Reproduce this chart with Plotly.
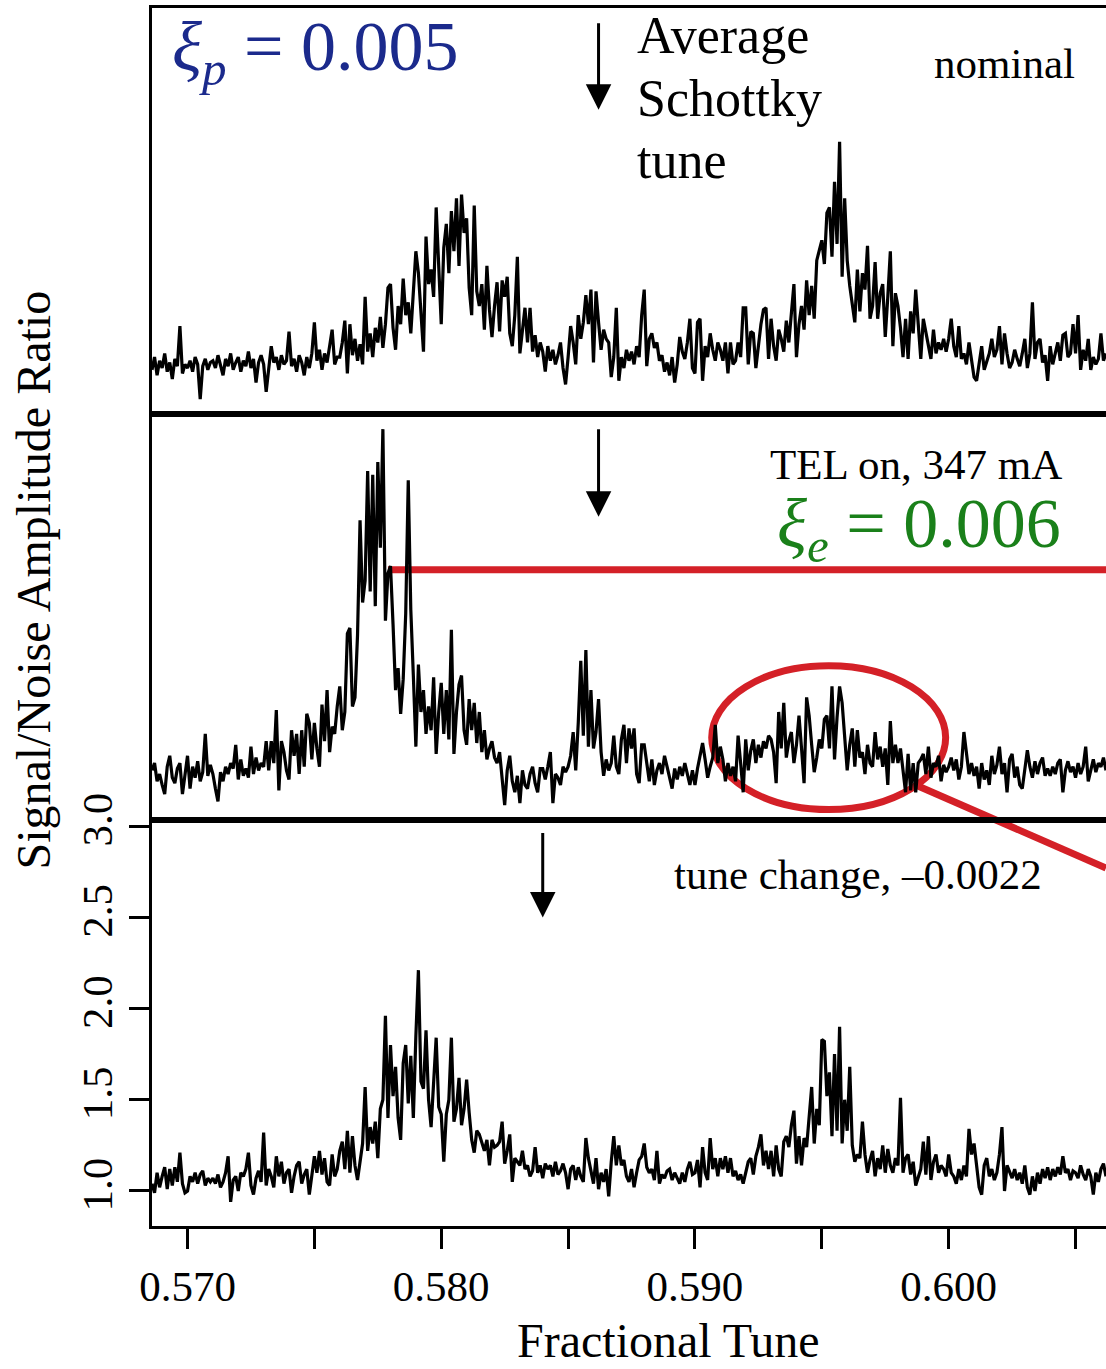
import plotly.graph_objects as go
from plotly.subplots import make_subplots

# ---------------- data (Signal/Noise amplitude ratio, sampled every 0.0001 in tune) ----------------
tune_start = 0.5686
tune_step = 0.0001

nominal = [
    1.05,1.12,1.02,1.10,1.06,1.14,1.04,1.09,1.00,1.11,1.07,1.29,1.03,1.08,
    1.06,1.10,1.04,1.12,1.08,0.89,1.07,1.11,1.05,1.09,
    1.10,1.06,1.13,1.08,1.02,1.11,1.07,1.14,1.05,1.09,
    1.12,1.04,1.10,1.07,1.15,1.06,1.11,0.98,1.09,1.13,
    1.08,0.93,1.06,1.18,1.09,1.12,1.05,1.13,1.08,1.10,
    1.26,1.07,1.11,1.04,1.13,1.09,1.02,1.12,1.06,1.14,
    1.31,1.10,1.16,1.05,1.14,1.09,1.18,1.27,1.08,1.12,
    1.12,1.20,1.32,1.03,1.30,1.13,1.22,1.10,1.19,1.08,
    1.45,1.15,1.25,1.12,1.28,1.20,1.34,1.17,1.30,1.50,
    1.52,1.28,1.16,1.40,1.30,1.55,1.35,1.42,1.25,1.48,
    1.70,1.58,1.38,1.15,1.78,1.52,1.60,1.45,1.94,1.62,
    1.30,1.72,1.85,1.58,1.92,1.70,1.99,1.62,2.01,1.80,
    1.88,1.50,1.35,1.95,1.48,1.40,1.52,1.27,1.62,1.38,
    1.23,1.40,1.53,1.26,1.54,1.45,1.56,1.25,1.18,1.35,
    1.67,1.14,1.25,1.39,1.20,1.39,1.15,1.24,1.12,1.20,
    1.15,1.04,1.18,1.10,1.16,1.08,1.13,1.20,1.06,0.97,
    1.12,1.29,1.20,1.08,1.35,1.22,1.31,1.46,1.30,1.49,
    1.09,1.48,1.31,1.16,1.27,1.22,1.20,1.01,1.12,1.39,
    0.99,1.12,1.06,1.16,1.10,1.15,1.08,1.18,1.12,1.35,
    1.49,1.07,1.22,1.25,1.17,1.20,1.10,1.13,1.04,1.09,
    1.02,1.12,0.98,1.08,1.23,1.15,1.11,1.20,1.33,1.06,
    1.03,1.31,1.33,0.99,1.18,1.12,1.25,1.16,1.10,1.20,
    1.16,1.10,1.20,1.03,1.20,1.08,1.10,1.20,1.12,1.39,
    1.39,1.08,1.26,1.25,1.06,1.18,1.30,1.38,1.39,1.11,
    1.33,1.18,1.10,1.27,1.22,1.15,1.32,1.20,1.38,1.52,
    1.12,1.30,1.40,1.27,1.54,1.35,1.51,1.33,1.65,1.71,
    1.76,1.63,1.91,1.94,1.67,2.08,1.74,2.30,1.56,1.99,
    1.65,1.51,1.42,1.31,1.60,1.37,1.58,1.49,1.73,1.33,
    1.40,1.64,1.33,1.47,1.52,1.23,1.45,1.70,1.18,1.47,
    1.40,1.28,1.12,1.33,1.11,1.37,1.25,1.49,1.30,1.11,
    1.33,1.25,1.18,1.11,1.27,1.14,1.20,1.16,1.22,1.15,
    1.22,1.33,1.18,1.12,1.29,1.11,1.14,1.08,1.20,1.10,
    1.01,0.99,1.10,1.18,1.05,1.09,1.14,1.22,1.12,1.16,
    1.29,1.08,1.25,1.14,1.06,1.09,1.16,1.11,1.07,1.14,
    1.22,1.06,1.14,1.42,1.11,1.20,1.22,1.09,1.13,0.99,
    1.18,1.08,1.14,1.20,1.10,1.24,1.25,1.12,1.14,1.30,
    1.14,1.35,1.05,1.16,1.10,1.22,1.05,1.12,1.08,1.11,
    1.25,1.10,1.14,
]

tel_on = [
    1.08,1.12,1.02,1.06,1.00,0.95,1.10,1.16,1.04,1.01,1.09,1.12,0.95,1.07,
    1.16,0.98,1.10,1.04,1.13,1.02,1.07,1.28,1.05,1.11,
    1.06,0.98,0.91,1.07,1.02,1.10,1.06,1.12,1.09,1.22,
    1.03,1.14,1.05,1.09,1.04,1.21,1.06,1.15,1.08,1.12,
    1.10,1.24,1.08,1.24,1.12,1.41,0.97,1.24,1.18,1.08,
    1.03,1.30,1.16,1.28,1.06,1.30,1.10,1.39,1.34,1.14,
    1.34,1.20,1.10,1.44,1.24,1.52,1.18,1.32,1.28,1.43,
    1.54,1.30,1.40,1.83,1.86,1.43,1.48,1.82,2.45,2.00,
    2.12,2.72,2.06,2.70,1.98,2.77,2.30,2.95,1.90,2.16,
    2.20,1.88,1.52,1.64,1.39,1.58,1.94,2.67,1.96,1.60,
    1.21,1.66,1.40,1.52,1.28,1.43,1.30,1.59,1.17,1.40,
    1.56,1.28,1.52,1.25,1.85,1.17,1.40,1.55,1.60,1.30,
    1.22,1.47,1.30,1.45,1.23,1.40,1.18,1.30,1.14,1.20,
    1.24,1.15,1.12,1.18,1.05,0.89,1.08,1.16,1.02,0.96,
    1.05,0.90,1.08,1.00,0.98,1.06,1.10,1.01,0.96,1.09,
    1.09,1.03,1.10,1.18,0.90,1.06,1.04,1.00,1.10,1.07,
    1.10,1.16,1.29,1.08,1.34,1.68,1.27,1.74,1.21,1.52,
    1.20,1.29,1.47,1.18,1.05,1.14,1.08,1.12,1.27,1.10,
    1.06,1.25,1.33,1.12,1.31,1.20,1.31,1.06,1.01,1.22,
    1.22,1.12,1.02,1.14,1.00,1.08,1.12,1.06,1.16,1.10,
    1.04,0.98,1.09,1.03,1.10,1.05,1.12,1.06,1.00,1.08,
    1.00,1.09,1.16,1.23,1.14,1.04,1.10,1.15,1.33,1.12,
    1.21,1.14,1.02,1.12,1.05,1.10,1.02,1.27,1.12,0.96,
    1.25,1.08,1.19,1.25,1.12,1.22,1.15,1.24,1.20,1.27,
    1.25,1.18,1.01,1.40,1.20,1.45,1.15,1.24,1.29,1.12,
    1.22,1.38,1.20,1.01,1.48,1.38,1.22,1.07,1.15,1.25,
    1.20,1.36,1.38,1.20,1.54,1.14,1.37,1.54,1.45,1.25,
    1.08,1.22,1.31,1.10,1.30,1.15,1.18,1.06,1.22,1.12,
    1.10,1.29,1.14,1.21,1.10,1.20,1.00,1.35,1.12,1.22,
    1.12,1.20,1.08,0.96,1.17,0.97,1.12,0.96,1.12,1.14,
    1.17,1.06,1.21,1.04,1.12,1.10,1.16,1.02,1.11,1.07,
    1.10,1.15,1.08,1.14,1.03,1.10,1.29,1.16,1.06,1.12,
    1.05,1.10,0.98,1.12,1.03,1.08,1.00,1.16,1.06,1.11,
    1.21,1.06,1.12,0.96,1.14,1.17,1.04,1.10,1.00,0.98,
    1.08,1.19,1.10,1.04,1.13,1.06,1.12,1.15,1.05,1.09,
    1.05,1.10,1.06,1.12,1.14,0.96,1.08,1.13,1.07,1.10,
    1.04,1.12,1.06,1.10,1.21,1.02,1.08,1.14,1.07,1.12,
    1.10,1.15,1.08,
]

tune_change = [
    1.04,0.99,1.10,1.02,1.08,1.13,1.01,1.12,1.03,1.13,1.05,1.21,1.04,0.99,
    1.00,1.08,1.05,1.10,1.04,1.09,1.11,1.03,1.07,1.05,
    1.07,1.04,1.09,1.02,1.05,1.10,1.19,0.94,1.06,1.08,
    1.00,1.10,1.08,1.12,1.21,1.03,0.98,1.07,1.11,1.05,
    1.32,1.03,1.12,1.08,1.02,1.19,1.08,1.16,1.04,1.10,
    1.12,0.99,1.08,1.14,1.16,1.04,1.09,1.12,0.98,1.08,
    1.19,1.10,1.22,1.09,1.18,1.05,1.03,1.20,1.08,1.12,
    1.22,1.27,1.12,1.33,1.10,1.30,1.14,1.06,1.16,1.26,
    1.57,1.22,1.35,1.26,1.38,1.18,1.45,1.50,1.96,1.40,
    1.80,1.52,1.68,1.40,1.28,1.70,1.80,1.48,1.74,1.40,
    1.85,2.21,1.60,1.56,1.88,1.50,1.35,1.62,1.84,1.46,
    1.42,1.16,1.42,1.50,1.84,1.38,1.45,1.62,1.36,1.45,
    1.61,1.43,1.28,1.21,1.33,1.31,1.27,1.22,1.28,1.14,
    1.28,1.24,1.25,1.27,1.38,1.15,1.22,1.31,1.05,1.18,
    1.16,1.14,1.22,1.12,1.14,1.08,1.11,1.24,1.10,1.14,
    1.07,1.15,1.12,1.14,1.08,1.16,1.09,1.11,1.15,1.10,
    1.01,1.12,1.14,1.06,1.13,1.08,1.05,1.29,1.18,1.10,
    1.04,1.18,1.01,1.10,1.05,1.12,0.97,1.16,1.30,1.14,
    1.25,1.14,1.17,1.08,1.05,1.12,1.02,1.10,1.17,1.19,
    1.26,1.13,1.10,1.12,1.06,1.22,1.04,1.09,1.07,1.11,
    1.12,1.06,1.10,1.07,1.04,1.10,1.05,1.12,1.16,1.09,
    1.10,1.17,1.02,1.24,1.10,1.06,1.29,1.12,1.18,1.08,
    1.18,1.12,1.19,1.10,1.18,1.08,1.11,1.06,1.09,1.04,
    1.10,1.16,1.18,1.09,1.19,1.24,1.31,1.14,1.22,1.12,
    1.22,1.08,1.25,1.12,1.08,1.27,1.30,1.24,1.36,1.44,
    1.15,1.30,1.14,1.29,1.24,1.41,1.57,1.26,1.45,1.36,
    1.83,1.82,1.52,1.65,1.30,1.75,1.33,1.90,1.26,1.50,
    1.33,1.68,1.25,1.16,1.20,1.18,1.38,1.20,1.10,1.17,
    1.22,1.08,1.18,1.12,1.25,1.10,1.23,1.14,1.10,1.18,
    1.14,1.51,1.10,1.18,1.20,1.09,1.16,1.03,1.08,1.12,
    1.27,1.09,1.30,1.06,1.16,1.20,1.10,1.14,1.12,1.08,
    1.20,1.10,1.08,1.04,1.12,1.06,1.14,1.08,1.34,1.20,
    1.26,1.12,1.02,0.98,1.14,1.18,1.08,1.12,1.06,1.10,
    1.20,1.35,1.00,1.14,1.10,1.07,1.12,1.06,1.10,1.04,
    1.14,1.02,0.98,1.08,1.00,1.10,1.04,1.12,1.07,1.13,
    1.06,1.12,1.08,1.13,1.09,1.19,1.10,1.12,1.06,1.11,
    1.10,1.07,1.14,1.09,1.06,1.12,1.08,0.98,1.10,1.05,
    1.12,1.15,1.08,
]

avg_schottky_tune = [0.5862, 0.5862, 0.5840]
x_ticks = [0.570, 0.575, 0.580, 0.585, 0.590, 0.595, 0.600, 0.605]
x_ticktext = ["0.570", "", "0.580", "", "0.590", "", "0.600", ""]
y_ticks = [1.0, 1.5, 2.0, 2.5, 3.0]
y_ticktext = ["1.0", "1.5", "2.0", "2.5", "3.0"]
x_range = [0.5686, 0.6062]
y_range = [0.808, 3.033]

FONT = "Liberation Serif"
RED = "#d42027"

def tunes(n):
    return [round(tune_start + tune_step * i, 4) for i in range(n)]

fig = make_subplots(rows=3, cols=1, shared_xaxes=True, vertical_spacing=0)

for row, series in enumerate([nominal, tel_on, tune_change], start=1):
    fig.add_trace(go.Scatter(x=tunes(len(series)), y=series, mode="lines",
                             line=dict(color="black", width=3.2),
                             showlegend=False, hoverinfo="skip"), row=row, col=1)

for row in (1, 2, 3):
    fig.update_xaxes(range=x_range, showline=True, linecolor="black", linewidth=3,
                     mirror=True, showgrid=False, zeroline=False, automargin=False,
                     row=row, col=1)
    fig.update_yaxes(range=y_range, showline=True, linecolor="black", linewidth=3,
                     mirror=False, showgrid=False, zeroline=False, automargin=False,
                     row=row, col=1)

fig.update_xaxes(showticklabels=False, ticks="", row=1, col=1)
fig.update_xaxes(showticklabels=False, ticks="", row=2, col=1)
fig.update_yaxes(showticklabels=False, ticks="", row=1, col=1)
fig.update_yaxes(showticklabels=False, ticks="", row=2, col=1)

fig.update_xaxes(tickvals=x_ticks, ticktext=x_ticktext, ticks="outside", ticklen=20,
                 tickwidth=3, tickcolor="black", tickfont=dict(size=43, color="black", family=FONT),
                 showticklabels=True, row=3, col=1)
fig.update_yaxes(tickvals=y_ticks, ticktext=y_ticktext, ticks="outside", ticklen=20,
                 tickwidth=3, tickcolor="black", tickangle=-90,
                 tickfont=dict(size=43, color="black", family=FONT), row=3, col=1)

# red annotations (below data)
fig.add_shape(type="line", xref="x2", yref="y2", x0=0.5779, x1=0.6062, y0=2.18, y1=2.18,
              line=dict(color=RED, width=7), layer="below")
fig.add_shape(type="circle", xref="x2", yref="y2", x0=0.59066, x1=0.59988, y0=0.865, y1=1.654,
              line=dict(color=RED, width=7), layer="below")
fig.add_shape(type="line", xref="paper", yref="paper", x0=0.8029, y0=0.3612, x1=1.0, y1=0.2939,
              line=dict(color=RED, width=7), layer="below")

# arrows marking average Schottky tune
arrow_tips = [("x", "y", 2.476, -88), ("x2", "y2", 2.470, -89), ("x3", "y3", 2.498, -86)]
for tune, (xr, yr, ytip, ay) in zip(avg_schottky_tune, arrow_tips):
    fig.add_annotation(x=tune, y=ytip, xref=xr, yref=yr, text="", showarrow=True,
                       arrowhead=2, arrowsize=1.7, arrowwidth=3, arrowcolor="black",
                       ax=0, ay=ay)

def label(text, x, y, size, color="black", xanchor="left"):
    fig.add_annotation(x=x, y=y, xref="paper", yref="paper", text=text, showarrow=False,
                       xanchor=xanchor, yanchor="middle",
                       font=dict(family=FONT, size=size, color=color))

label("<i>ξ</i><sub><i>p</i></sub> = 0.005", 0.0189, 0.9639, 70, color="#1b2a8c")
label("Average", 0.5063, 0.9778, 52)
label("Schottky", 0.5063, 0.9261, 52)
label("tune", 0.5063, 0.8752, 52)
label("nominal", 0.9696, 0.9548, 43, xanchor="right")
label("TEL on, 347 mA", 0.956, 0.6248, 43, xanchor="right")
label("<i>ξ</i><sub><i>e</i></sub> = 0.006", 0.955, 0.5722, 70, color="#1a801a", xanchor="right")
label("tune change, –0.0022", 0.935, 0.2882, 43, xanchor="right")

# axis titles
fig.add_annotation(x=0.541, y=-0.0936, xref="paper", yref="paper", text="Fractional Tune",
                   showarrow=False, xanchor="center", yanchor="middle",
                   font=dict(family=FONT, size=48, color="black"))
fig.add_annotation(x=-0.1247, y=0.530, xref="paper", yref="paper",
                   text="Signal/Noise Amplitude Ratio", textangle=-90,
                   showarrow=False, xanchor="center", yanchor="middle",
                   font=dict(family=FONT, size=48, color="black"))

fig.update_layout(width=1106, height=1369, margin=dict(l=152, r=0, t=8, b=143),
                  paper_bgcolor="white", plot_bgcolor="white",
                  font=dict(family=FONT, color="black"))

fig.write_html("out.html")
